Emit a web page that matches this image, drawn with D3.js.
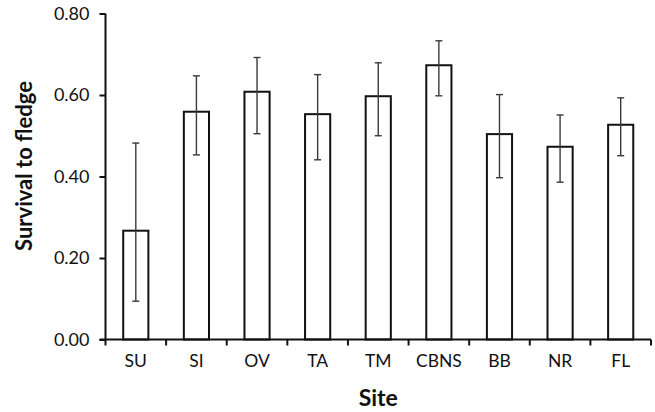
<!DOCTYPE html>
<html>
<head>
<meta charset="utf-8">
<script src="https://cdn.jsdelivr.net/npm/d3@7"></script>
<style>
  html, body { margin: 0; padding: 0; background: #fff; }
  svg { display: block; }
  text { font-family: Lato, "Open Sans", sans-serif; fill: #111; }
</style>
</head>
<body>
<svg id="chart" width="655" height="412"></svg>
<script>
const categories = ["SU", "SI", "OV", "TA", "TM", "CBNS", "BB", "NR", "FL"];
const values     = [0.267, 0.559, 0.608, 0.553, 0.597, 0.673, 0.504, 0.473, 0.527];
const errUpper   = [0.482, 0.647, 0.692, 0.650, 0.679, 0.733, 0.601, 0.551, 0.593];
const errLower   = [0.094, 0.453, 0.505, 0.441, 0.500, 0.598, 0.397, 0.386, 0.451];
const yTicks     = [0, 0.2, 0.4, 0.6, 0.8];

const svg = d3.select("#chart");
const plotLeft = 105.5, plotRight = 651, plotTop = 13.5, plotBottom = 339.5;

const x = d3.scaleBand().domain(categories).range([plotLeft, plotRight])
  .paddingInner(0.585).paddingOuter(0.2925);
const y = d3.scaleLinear().domain([0, 0.8]).range([plotBottom, plotTop]);

// bars
svg.append("g").selectAll("rect").data(categories).join("rect")
  .attr("x", d => x(d))
  .attr("y", (d, i) => y(values[i]))
  .attr("width", x.bandwidth())
  .attr("height", (d, i) => y(0) - y(values[i]))
  .attr("fill", "#fff").attr("stroke", "#111").attr("stroke-width", 2);

// error bars
const eg = svg.append("g").attr("stroke", "#3a3a3a").attr("stroke-width", 1.4);
categories.forEach((c, i) => {
  const cx = x(c) + x.bandwidth() / 2;
  eg.append("line").attr("x1", cx).attr("x2", cx).attr("y1", y(errUpper[i])).attr("y2", y(errLower[i]));
  eg.append("line").attr("x1", cx - 3.5).attr("x2", cx + 3.5).attr("y1", y(errUpper[i])).attr("y2", y(errUpper[i]));
  eg.append("line").attr("x1", cx - 3.5).attr("x2", cx + 3.5).attr("y1", y(errLower[i])).attr("y2", y(errLower[i]));
});

// y axis
const yAxis = d3.axisLeft(y).tickValues(yTicks).tickFormat(d3.format(".2f")).tickSize(6).tickPadding(10);
const gy = svg.append("g").attr("transform", `translate(${plotLeft},0)`).call(yAxis);
gy.select(".domain").attr("stroke", "#111").attr("stroke-width", 2).attr("d", `M0,${plotTop}V${plotBottom}`);
gy.selectAll(".tick line").attr("stroke", "#111").attr("stroke-width", 2);
gy.selectAll(".tick text").style("font-size", "18px").style("font-family", "Lato, sans-serif").attr("fill", "#222");

// x axis
const xAxis = d3.axisBottom(x).tickSize(0).tickPadding(15);
const gx = svg.append("g").attr("transform", `translate(0,${plotBottom})`).call(xAxis);
gx.select(".domain").attr("stroke", "#111").attr("stroke-width", 2).attr("d", `M${plotLeft - 6},0H${plotRight}`);
gx.selectAll(".tick text").style("font-size", "17.5px").style("font-family", "Lato, sans-serif").attr("fill", "#222");

// boundary ticks
const bounds = categories.map(c => x(c) + x.bandwidth() / 2 - x.step() / 2);
bounds.push(plotRight);
svg.append("g").selectAll("line").data(bounds).join("line")
  .attr("x1", d => d).attr("x2", d => d)
  .attr("y1", plotBottom).attr("y2", plotBottom + 6)
  .attr("stroke", "#111").attr("stroke-width", 2);

// titles
svg.append("text").attr("x", (plotLeft + plotRight) / 2).attr("y", 406)
  .attr("text-anchor", "middle").style("font-size", "23px").style("font-weight", "bold").text("Site");
svg.append("text").attr("transform", `translate(32,166) rotate(-90)`)
  .attr("text-anchor", "middle").style("font-size", "22px").style("font-weight", "bold").text("Survival to fledge");
</script>
</body>
</html>
